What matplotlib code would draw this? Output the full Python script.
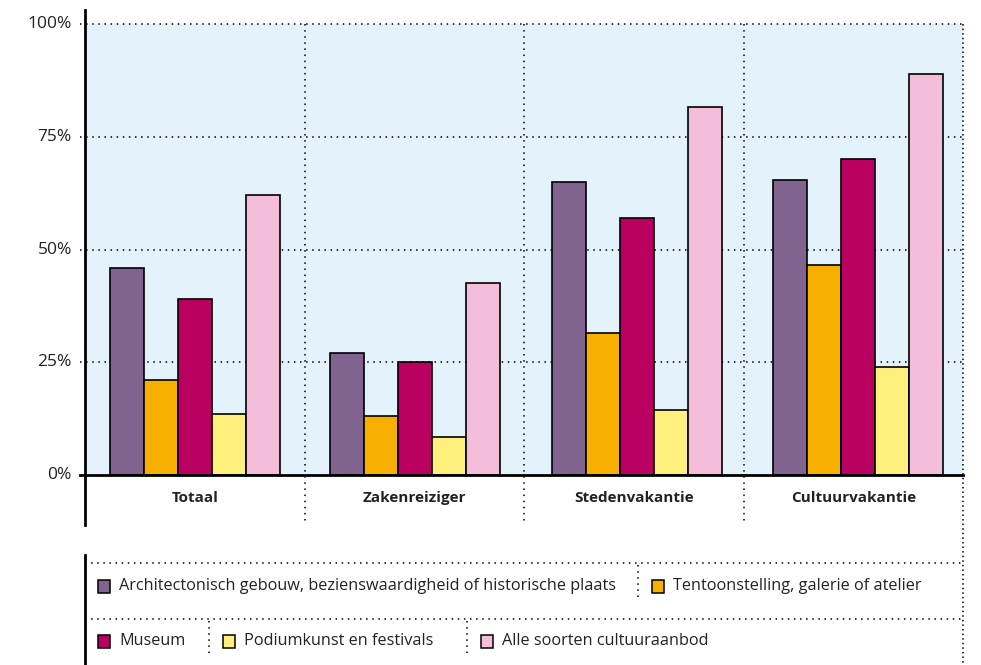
import matplotlib
matplotlib.use("Agg")
import matplotlib.pyplot as plt
import numpy as np

categories = ["Totaal", "Zakenreiziger", "Stedenvakantie", "Cultuurvakantie"]
series_names = [
    "Architectonisch gebouw, bezienswaardigheid of historische plaats",
    "Tentoonstelling, galerie of atelier",
    "Museum",
    "Podiumkunst en festivals",
    "Alle soorten cultuuraanbod",
]
architectuur = [46, 27, 65, 65.5]
tentoonstelling = [21, 13, 31.5, 46.5]
museum = [39, 25, 57, 70]
podium = [13.5, 8.5, 14.5, 24]
alle = [62, 42.5, 81.5, 89]
series_values = [architectuur, tentoonstelling, museum, podium, alle]
colors = ["#80648F", "#F8B000", "#B90060", "#FFF07D", "#F4BDD9"]
yticks = [0, 25, 50, 75, 100]
ytick_labels = ["0%", "25%", "50%", "75%", "100%"]

plt.rcParams['font.family'] = ['Open Sans', 'DejaVu Sans']

W, H = 981, 665
fig = plt.figure(figsize=(W / 100, H / 100), dpi=100)

L, R, T, B = 85, 963, 24, 475
ax = fig.add_axes([L / W, 1 - B / H, (R - L) / W, (B - T) / H])
ax.set_xlim(0, len(categories))
ax.set_ylim(0, 100)
ax.set_facecolor("#E4F2FB")
for s in ax.spines.values():
    s.set_visible(False)
ax.set_xticks([])
ax.set_yticks([])

px_y = 100 / (B - T)       # data units per pixel (y)
px_x = len(categories) / (R - L)

bw = 0.155
group_shift = np.array([0, 1, 3, 5]) * px_x
x = np.arange(len(categories)) + 0.5
for i, (vals, c) in enumerate(zip(series_values, colors)):
    ax.bar(x + group_shift + (i - 2) * bw, vals, width=bw, color=c, edgecolor="black",
           linewidth=1.2, zorder=3)

# gridlines
for yv in yticks[1:]:
    ax.plot([-5 * px_x, len(categories)], [yv, yv], color="black", lw=1.1,
            linestyle=(0, (1, 3)), clip_on=False, zorder=1)
# zero line
ax.plot([-5 * px_x, len(categories)], [0, 0], color="black", lw=2, clip_on=False, zorder=4)
# left spine
ax.plot([0, 0], [(B - 10) * px_y, -50 * px_y], color="black", lw=2, clip_on=False, zorder=4)
# category separators
for k in range(1, len(categories)):
    ax.plot([k, k], [100, -50 * px_y], color="black", lw=1.1,
            linestyle=(0, (1, 3)), clip_on=False, zorder=1)
# right border
ax.plot([len(categories)] * 2, [100, -(H - B) * px_y], color="black", lw=1.1,
        linestyle=(0, (1, 2)), clip_on=False, zorder=1)

for yv, lab in zip(yticks, ytick_labels):
    ax.text(-13 * px_x, yv, lab, ha="right", va="center", fontsize=12.5, color="#222222")

for xi, cat in zip(x, categories):
    ax.text(xi, -23 * px_y, cat, ha="center", va="center", fontsize=11,
            fontweight="bold", color="#222222")

# legend area in pixel coordinates
lg = fig.add_axes([0, 0, 1, 1], zorder=5)
lg.set_xlim(0, W)
lg.set_ylim(H, 0)
lg.axis("off")
lg.patch.set_alpha(0)

lg.plot([L, L], [555, H], color="black", lw=2)
for yy in [563, 619]:
    lg.plot([L, R], [yy, yy], color="black", lw=1.1, linestyle=(0, (1, 3)))
lg.plot([638, 638], [565, 600], color="black", lw=1.1, linestyle=(0, (1, 3)))
lg.plot([209, 209], [621, 655], color="black", lw=1.1, linestyle=(0, (1, 3)))
lg.plot([467, 467], [621, 655], color="black", lw=1.1, linestyle=(0, (1, 3)))

entries = [(98, 586, 0), (652, 586, 1), (98, 641, 2), (223, 641, 3), (481, 641, 4)]
for ex, ey, idx in entries:
    lg.add_patch(plt.Rectangle((ex, ey - 6.5), 12, 13, facecolor=colors[idx],
                               edgecolor="black", lw=1.1))
    lg.text(ex + 21, ey, series_names[idx], ha="left", va="center",
            fontsize=11.7, color="#222222")

fig.savefig("out.png", dpi=100)
